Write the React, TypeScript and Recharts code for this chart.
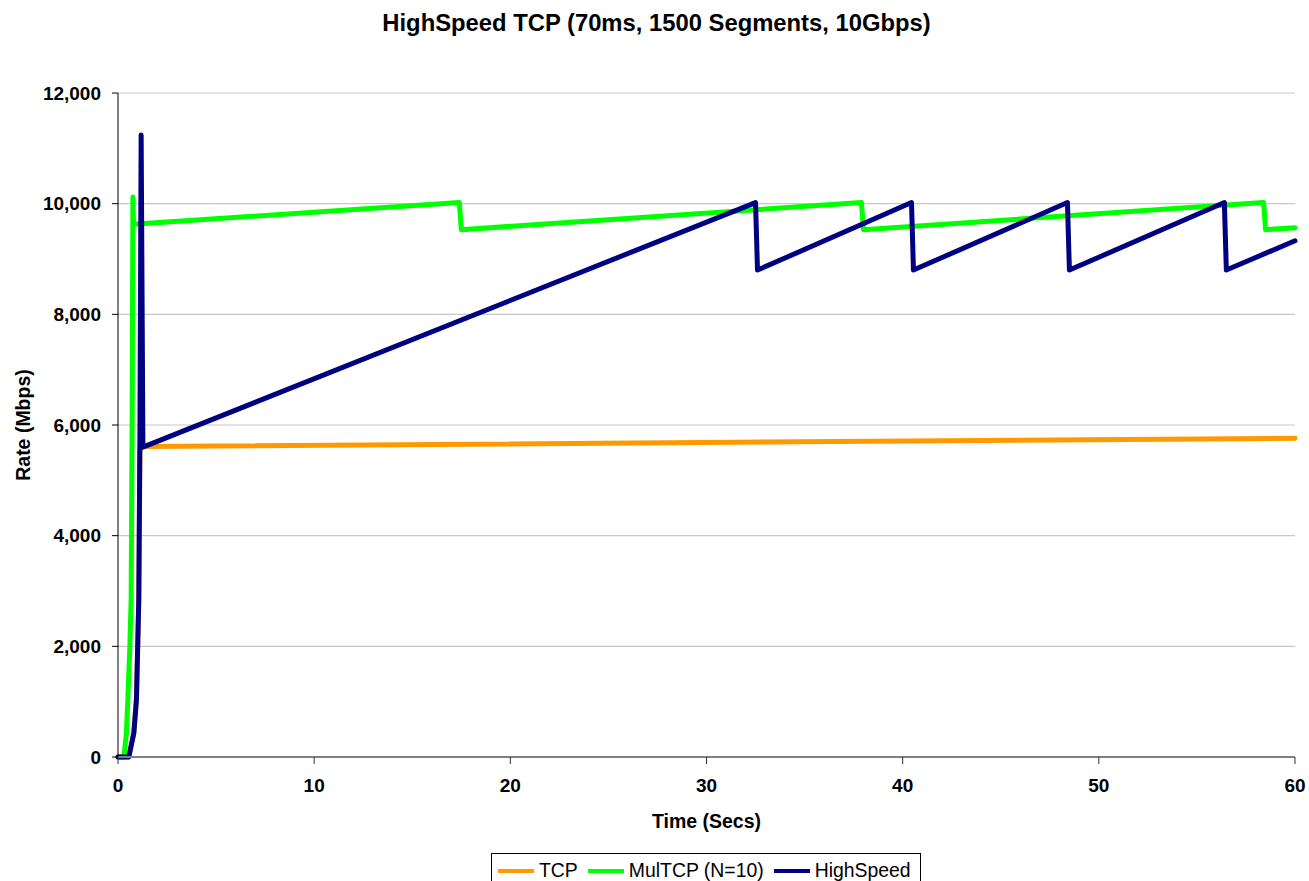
import React from 'react'
import { LineChart, Line, XAxis, YAxis, CartesianGrid } from 'recharts'

// time (secs) / rate (Mbps) points
const tcpTime = [0, 0.55, 0.81, 0.94, 1.06, 1.12, 1.27, 60]
const tcpRate = [0, 0, 440, 1040, 2850, 5600, 5610, 5760]

const mulTime = [0, 0.3, 0.43, 0.5, 0.6, 0.67, 0.72, 0.76, 0.79, 17.4, 17.5, 37.9, 38.0, 58.4, 58.5, 60]
const mulRate = [0, 0, 440, 1040, 1950, 2850, 6000, 10120, 9630, 10020, 9530, 10020, 9530, 10020, 9530, 9566]

const hsTime = [0, 0.55, 0.81, 0.94, 1.06, 1.12, 1.18, 1.27, 32.5, 32.6, 40.45, 40.55, 48.4, 48.5, 56.4, 56.5, 60]
const hsRate = [0, 0, 440, 1040, 2850, 6000, 11240, 5600, 10020, 8800, 10020, 8800, 10020, 8800, 10020, 8800, 9330]

const xTicks = [0, 10, 20, 30, 40, 50, 60]
const yTicks = [0, 2000, 4000, 6000, 8000, 10000, 12000]

const toPoints = (t: number[], v: number[]) => t.map((x, i) => ({ t: x, v: v[i] }))

const series = [
  { name: 'TCP', color: '#FF9900', data: toPoints(tcpTime, tcpRate) },
  { name: 'MulTCP (N=10)', color: '#00FF00', data: toPoints(mulTime, mulRate) },
  { name: 'HighSpeed', color: '#000080', data: toPoints(hsTime, hsRate) },
]

const font = "Arial, 'Liberation Sans', sans-serif"
const tickStyle = { fill: '#000', fontSize: 19, fontWeight: 'bold' as const, fontFamily: font }

export default function App() {
  return (
    <div
      style={{
        position: 'absolute',
        left: 0,
        top: 0,
        width: 1309,
        height: 881,
        overflow: 'hidden',
        background: '#fff',
        fontFamily: font,
      }}
    >
      <div
        style={{
          position: 'absolute',
          top: 9,
          left: 0,
          width: 1309,
          textAlign: 'center',
          fontSize: 23.8,
          fontWeight: 'bold',
          paddingLeft: 2,
        }}
      >
        HighSpeed TCP (70ms, 1500 Segments, 10Gbps)
      </div>
      <LineChart width={1309} height={881} margin={{ top: 93, right: 14, bottom: 84, left: 0 }}>
        <CartesianGrid vertical={false} stroke="#c8c8c8" strokeWidth={1.2} />
        <XAxis
          type="number"
          dataKey="t"
          domain={[0, 60]}
          ticks={xTicks}
          height={40}
          tickSize={7}
          tickMargin={15}
          tick={tickStyle}
          axisLine={{ stroke: '#808080', strokeWidth: 2 }}
          tickLine={{ stroke: '#333' }}
          label={{
            value: 'Time (Secs)',
            position: 'bottom',
            offset: 17,
            style: { fill: '#000', fontSize: 19.5, fontWeight: 'bold', fontFamily: font },
          }}
        />
        <YAxis
          type="number"
          domain={[0, 12000]}
          ticks={yTicks}
          width={118}
          tickSize={6}
          tickMargin={11}
          tick={tickStyle}
          tickFormatter={(v: number) => v.toLocaleString('en-US')}
          axisLine={{ stroke: '#000' }}
          tickLine={{ stroke: '#000' }}
          label={{
            value: 'Rate (Mbps)',
            angle: -90,
            position: 'insideLeft',
            offset: 23,
            style: { fill: '#000', fontSize: 19.5, fontWeight: 'bold', fontFamily: font, textAnchor: 'middle' },
          }}
        />
        {series.map((s) => (
          <Line
            key={s.name}
            data={s.data}
            dataKey="v"
            name={s.name}
            type="linear"
            stroke={s.color}
            strokeWidth={5}
            strokeLinejoin="round"
            strokeLinecap="round"
            dot={false}
            activeDot={false}
            isAnimationActive={false}
          />
        ))}
      </LineChart>
      <div
        style={{
          position: 'absolute',
          left: 491,
          top: 853,
          width: 430,
          height: 40,
          boxSizing: 'border-box',
          border: '1px solid #000',
          display: 'flex',
          alignItems: 'flex-start',
          paddingLeft: 6,
          paddingTop: 5,
          fontSize: 19.4,
          whiteSpace: 'nowrap',
        }}
      >
        {series.map((s) => (
          <div key={s.name} style={{ display: 'flex', alignItems: 'center', marginRight: 10 }}>
            <span style={{ display: 'inline-block', width: 36, height: 4, background: s.color, marginRight: 5 }} />
            <span>{s.name}</span>
          </div>
        ))}
      </div>
    </div>
  )
}
